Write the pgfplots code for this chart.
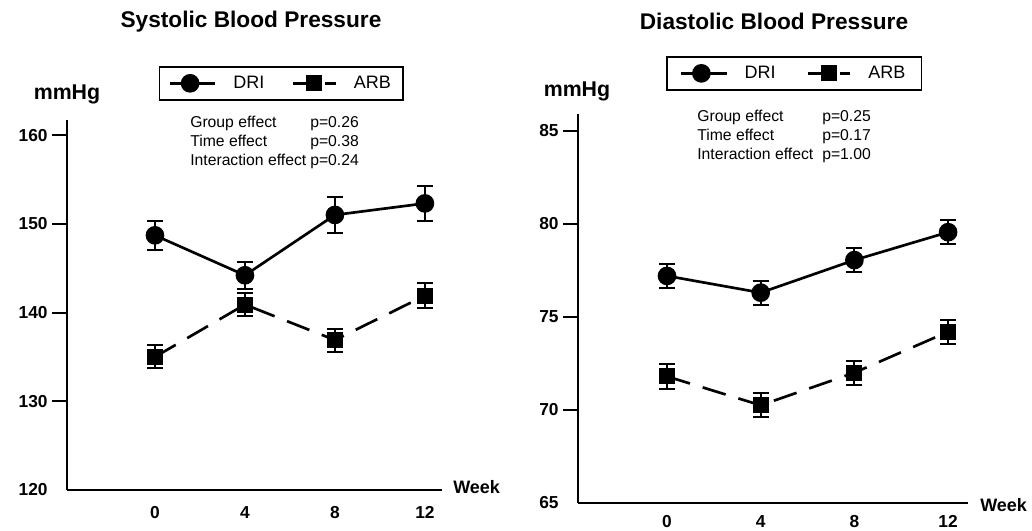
\documentclass[border=0pt]{standalone}
\usepackage{fontspec}
\setmainfont{Liberation Sans}
\usepackage{pgfplots}
\pgfplotsset{compat=1.18}

\pgfplotsset{
  bp/.style={
    scale only axis, clip=false,
    axis lines=left, axis line style={-, line width=2pt},
    xtick={0,4,8,12}, xtick style={draw=none},
    tick align=outside, major tick length=11pt,
    ytick style={line width=1.5pt, black},
    tick label style={font=\bfseries\fontsize{13}{13}\selectfont},
    xticklabel style={text height=9.5pt, text depth=0pt},
    /pgf/number format/assume math mode=true,
    extra y tick style={major tick length=0pt, yticklabel style={xshift=-11pt}},
    legend columns=2,
    legend style={draw=black, line width=1.2pt, anchor=north,
      font=\fontsize{13.5}{15}\selectfont, inner xsep=7pt, inner ysep=5pt,
      /tikz/every odd column/.append style={column sep=10.5pt},
      /tikz/every even column/.append style={column sep=18.5pt}},
  },
  dri/.style={black, line width=2pt, mark=*, mark size=6pt,
    legend image code/.code={\draw[mark repeat=2, mark phase=2]
      plot coordinates {(0pt,0pt) (15pt,0pt) (34pt,0pt)};},
    error bars/.cd, y dir=both, y explicit,
    error bar style={line width=1.5pt, solid},
    error mark options={rotate=90, mark size=6pt, line width=1.5pt, solid}},
  arb/.style={black, line width=2pt, dash pattern=on 18pt off 10pt,
    mark=square*, mark size=5pt, mark options={solid},
    legend image code/.code={\draw[mark repeat=2, mark phase=2, dash pattern=on 19.5pt off 4.5pt]
      plot coordinates {(0pt,0pt) (16pt,0pt) (32pt,0pt)};},
    error bars/.cd, y dir=both, y explicit,
    error bar style={line width=1.5pt, solid},
    error mark options={rotate=90, mark size=6pt, line width=1.5pt, solid}},
}

\begin{document}
\begin{tikzpicture}
\useasboundingbox (0,0) rectangle (774pt,398.25pt);

% Systolic
\begin{axis}[bp, at={(50.25pt,30.75pt)}, anchor=south west,
  width=281.25pt, height=277.5pt,
  xmin=-3.91, xmax=12.76, ymin=120, ymax=161.7,
  ytick={130,140,150,160}, extra y ticks={120},
  xticklabel style={yshift=3pt},
  legend style={at={(0.571,1.146)}}]
\addplot[dri] coordinates {
  (0,148.7) +- (0,1.6)
  (4,144.2) +- (0,1.5)
  (8,151.0) +- (0,2.0)
  (12,152.3) +- (0,2.0)
};
\addplot[arb] coordinates {
  (0,135.0) +- (0,1.3)
  (4,140.9) +- (0,1.3)
  (8,136.9) +- (0,1.3)
  (12,141.9) +- (0,1.4)
};
\legend{DRI, ARB}
\end{axis}

% Diastolic
\begin{axis}[bp, at={(433.5pt,21pt)}, anchor=south west,
  width=292.5pt, height=291.75pt,
  xmin=-3.8, xmax=12.85, ymin=65, ymax=85.9,
  ytick={70,75,80,85}, extra y ticks={65},
  xticklabel style={yshift=5.5pt},
  legend style={at={(0.554,1.149)}, inner xsep=10pt,
    /tikz/every even column/.append style={column sep=21pt}}]
\addplot[dri] coordinates {
  (0,77.2) +- (0,0.65)
  (4,76.3) +- (0,0.65)
  (8,78.05) +- (0,0.65)
  (12,79.55) +- (0,0.65)
};
\addplot[arb] coordinates {
  (0,71.8) +- (0,0.65)
  (4,70.25) +- (0,0.65)
  (8,72.0) +- (0,0.65)
  (12,74.2) +- (0,0.65)
};
\legend{DRI, ARB}
\end{axis}

% titles and labels
\node[font=\bfseries\fontsize{17}{20}\selectfont] at (188.25pt,382pt) {Systolic Blood Pressure};
\node[font=\bfseries\fontsize{17}{20}\selectfont] at (580.5pt,382pt) {Diastolic Blood Pressure};
\node[font=\bfseries\fontsize{16}{18}\selectfont] at (50.25pt,327.75pt) {mmHg};
\node[font=\bfseries\fontsize{16}{18}\selectfont] at (432.75pt,330pt) {mmHg};
\node[font=\bfseries\fontsize{13.5}{15}\selectfont, anchor=west, inner sep=0pt] at (339.75pt,33pt) {Week};
\node[font=\bfseries\fontsize{13.5}{15}\selectfont, anchor=west, inner sep=0pt] at (735pt,19.5pt) {Week};

% statistics
\begin{scope}[every node/.style={anchor=base west, inner sep=0pt, font=\fontsize{11.8}{13}\selectfont}]
\node at (142.5pt,302.25pt) {Group effect};
\node at (232.5pt,302.25pt) {p=0.26};
\node at (142.5pt,288pt) {Time effect};
\node at (232.5pt,288pt) {p=0.38};
\node at (142.5pt,273.75pt) {Interaction effect};
\node at (232.5pt,273.75pt) {p=0.24};

\node at (522.75pt,306.75pt) {Group effect};
\node at (616.5pt,306.75pt) {p=0.25};
\node at (522.75pt,292.5pt) {Time effect};
\node at (616.5pt,292.5pt) {p=0.17};
\node at (522.75pt,278.25pt) {Interaction effect};
\node at (616.5pt,278.25pt) {p=1.00};
\end{scope}
\end{tikzpicture}
\end{document}
